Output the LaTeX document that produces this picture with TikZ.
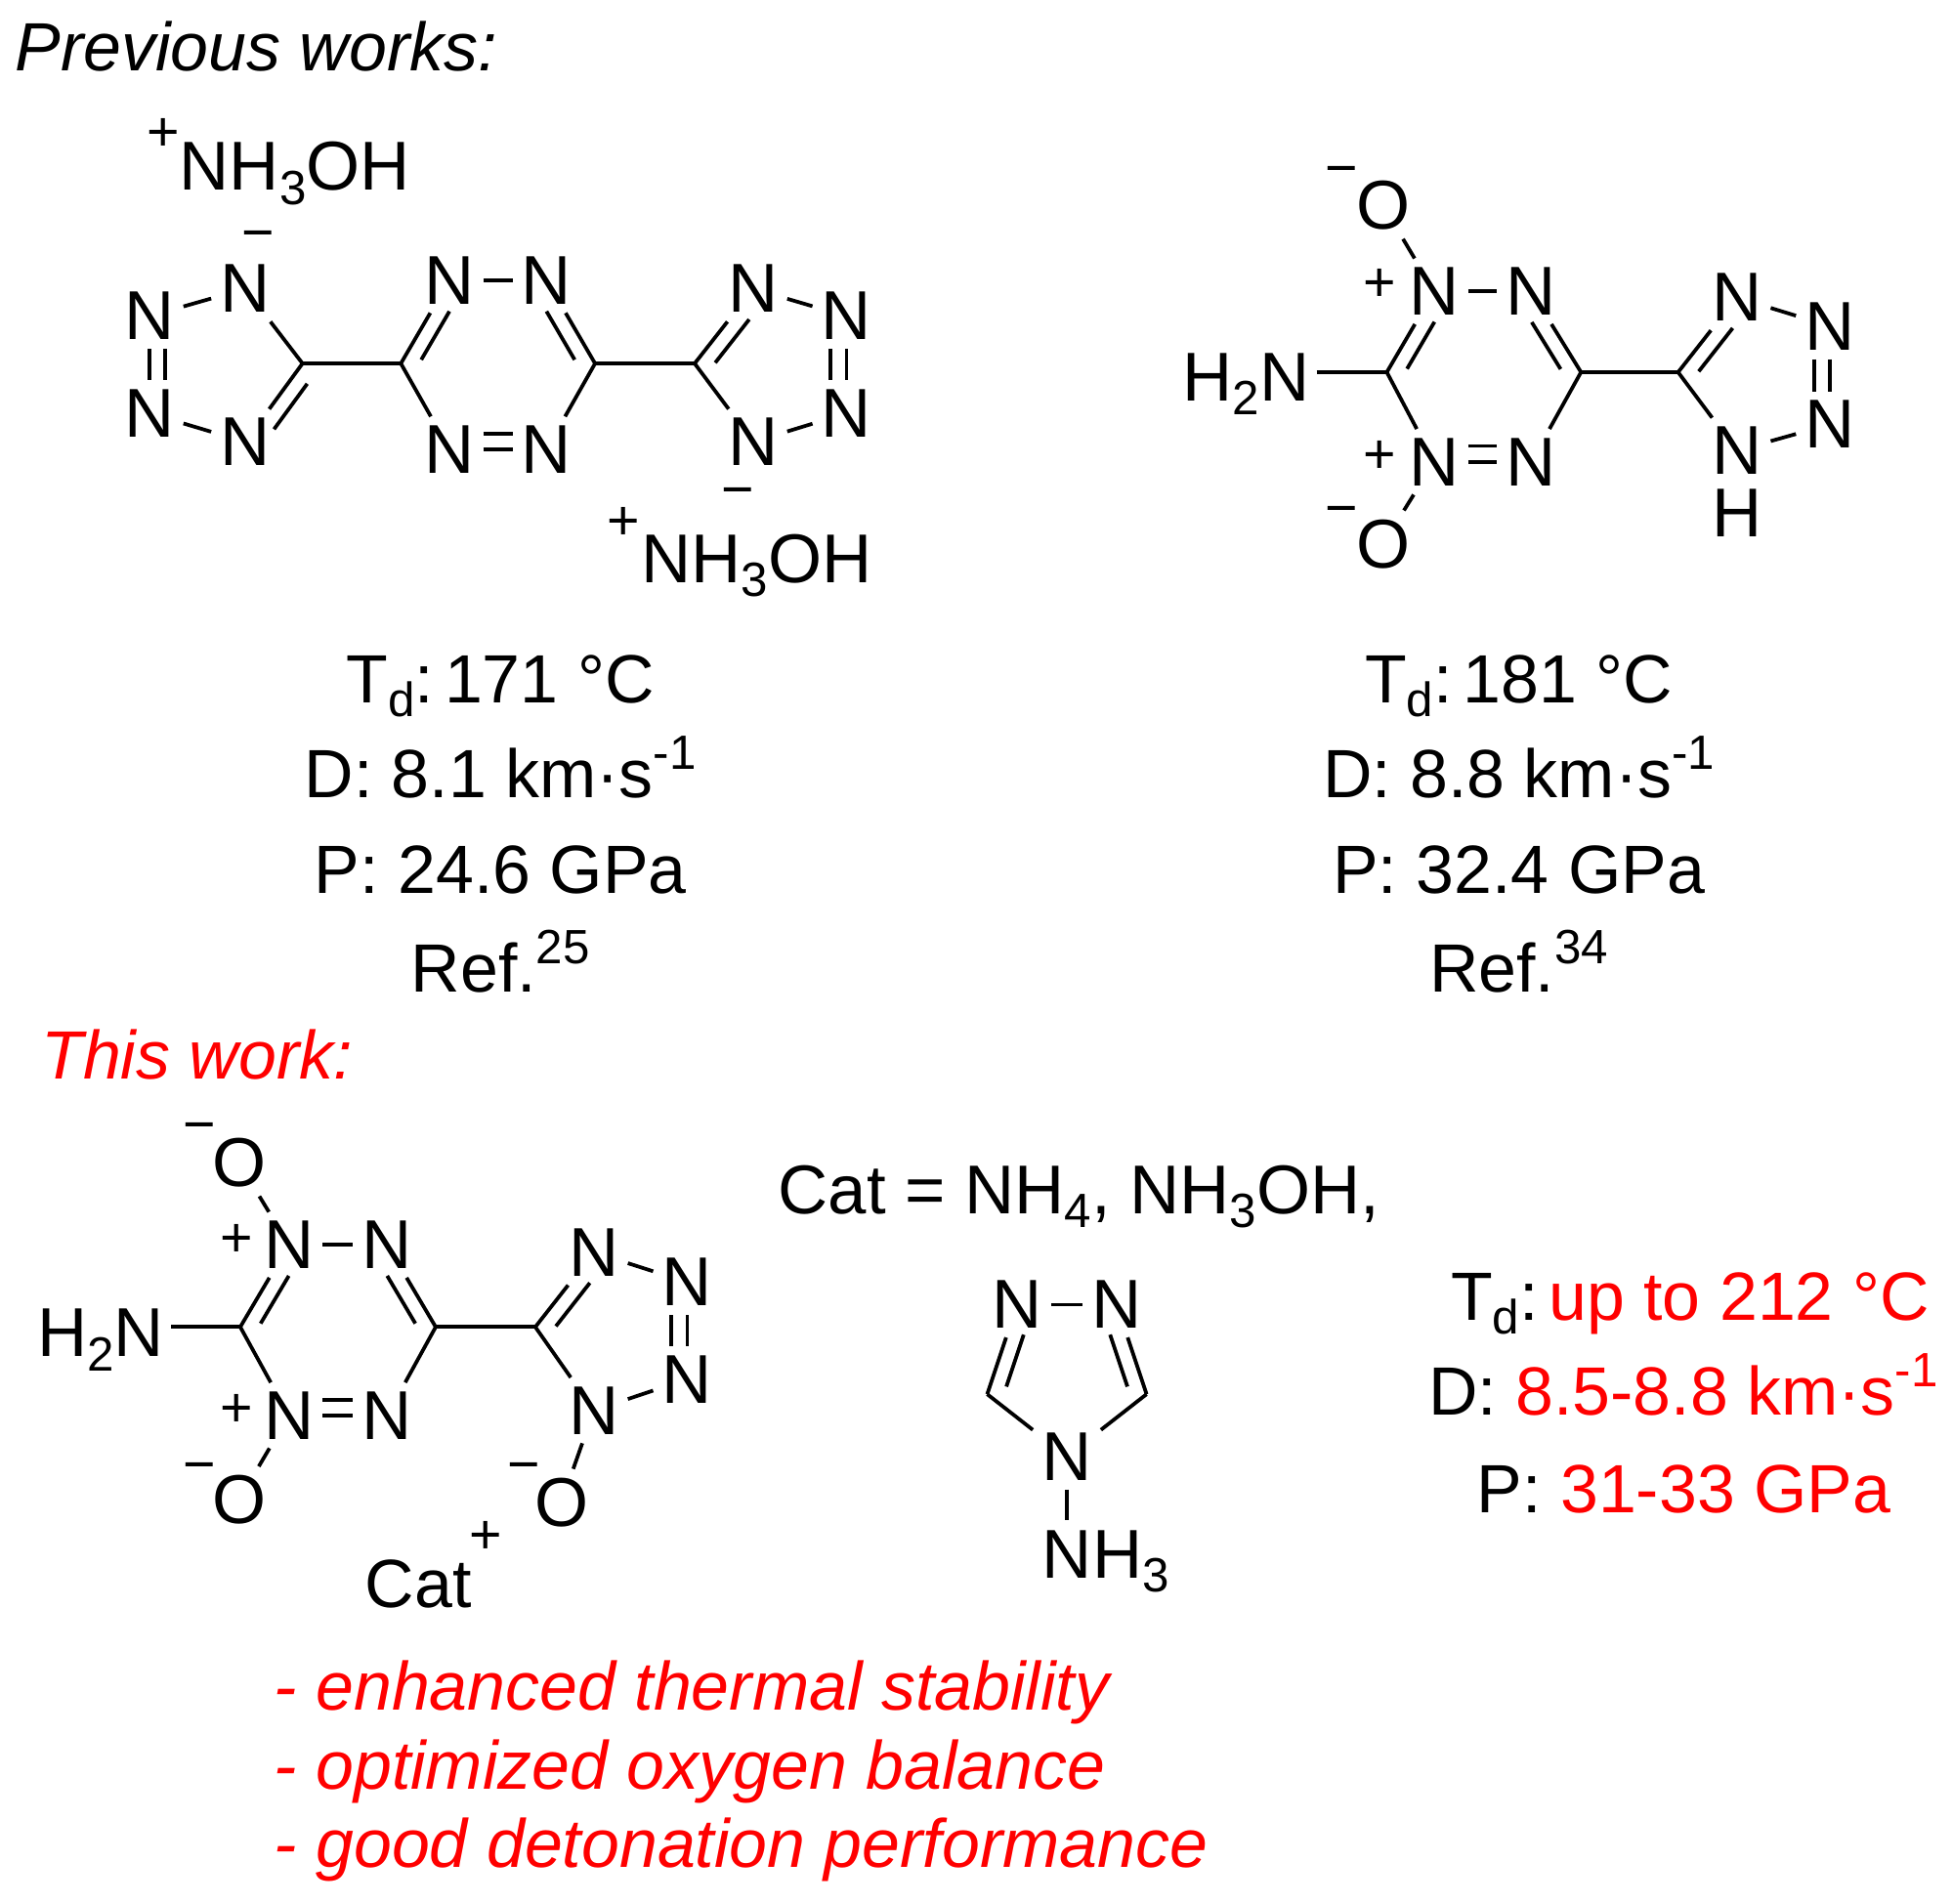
\documentclass[tikz,border=0pt]{standalone}
\usepackage{fontspec}
\setmainfont{Liberation Sans}
\usetikzlibrary{calc,positioning}

\newcommand{\sbs}[1]{\raisebox{-0.2em}{\fontsize{27.5}{30}\selectfont #1}}
\newcommand{\sps}[1]{\raisebox{0.42em}{\fontsize{27.5}{30}\selectfont #1}}
% short inner line of a ring double bond
\newcommand{\innerline}[3]{\draw[bond] ($(#1)!.14!(#2)!#3!90:(#2)$) -- ($(#1)!.72!(#2)!#3!90:(#2)$);}

\begin{document}
\begin{tikzpicture}[
        x=0.025cm, y=-0.025cm,
        atm/.style={font=\fontsize{39.5}{44}\selectfont, inner sep=5pt},
        grp/.style={font=\fontsize{39.5}{44}\selectfont, inner sep=0pt, anchor=base west},
        chg/.style={font=\fontsize{32}{34}\selectfont, inner sep=0pt},
        mns/.style={chg, yshift=-5pt},
        info/.style={font=\fontsize{39}{44}\selectfont, inner sep=0pt, anchor=base},
        remark/.style={font=\fontsize{39}{44}\selectfont\itshape, inner sep=0pt, text=red, anchor=base west},
        bond/.style={line width=2.1pt}
      ]
        \useasboundingbox (0,0) rectangle (1568,1529);

        % headings
        \node[remark, text=black] (prevhead) at (12,57) {Previous works:};
        \node[remark] (thishead) at (33,867) {This work:};

        % first salt
        \coordinate (ac1) at (243,292);
        \coordinate (ac2) at (322,292);
        \coordinate (ac3) at (478,292);
        \coordinate (ac4) at (558,292);
        \node[atm] (an1) at (120,254) {N};
        \node[atm] (an2) at (120,332) {N};
        \node[atm] (an3) at (197,232) {N};
        \node[atm] (an4) at (197,355) {N};
        \node[atm] (an5) at (361,225) {N};
        \node[atm] (an6) at (439,225) {N};
        \node[atm] (an7) at (361,361) {N};
        \node[atm] (an8) at (439,361) {N};
        \node[atm] (an9) at (605,232) {N};
        \node[atm] (an10) at (605,355) {N};
        \node[atm] (an11) at (680,254) {N};
        \node[atm] (an12) at (680,332) {N};
        \node[mns] (amin1) at (207,187) {−};
        \node[mns] (amin2) at (593,393) {−};
        \node[chg] (apl1) at (131,108) {+};
        \node[chg] (apl2) at (501,421) {+};
        \node[grp] (acat1) at (144,153) {NH\sbs{3}OH};
        \node[grp] (acat2) at (515,468) {NH\sbs{3}OH};
        \draw[bond] (an1) -- (an3);
        \draw[bond] (an2) -- (an4);
        \draw[bond] (an1) -- (an2);
        \draw[bond, transform canvas={xshift=9pt}] (an1) -- (an2);
        \draw[bond] (an3) -- (ac1);
        \draw[bond] (an4) -- (ac1);
        \draw[bond] (ac1) -- (ac2);
        \draw[bond] (ac2) -- (an5);
        \draw[bond] (ac2) -- (an7);
        \draw[bond] (an5) -- (an6);
        \draw[bond] (an7) -- (an8);
        \draw[bond, transform canvas={yshift=9pt}] (an7) -- (an8);
        \draw[bond] (an6) -- (ac3);
        \draw[bond] (an8) -- (ac3);
        \draw[bond] (ac3) -- (ac4);
        \draw[bond] (ac4) -- (an9);
        \draw[bond] (ac4) -- (an10);
        \draw[bond] (an9) -- (an11);
        \draw[bond] (an10) -- (an12);
        \draw[bond] (an11) -- (an12);
        \draw[bond, transform canvas={xshift=-9pt}] (an11) -- (an12);
        \innerline{ac1}{an4}{9pt}
        \innerline{ac2}{an5}{-9pt}
        \innerline{ac3}{an6}{9pt}
        \innerline{ac4}{an9}{-9pt}

        % second compound
        \coordinate (bc1) at (1114,299);
        \coordinate (bc2) at (1270,299);
        \coordinate (bc3) at (1348,299);
        \node[atm] (bn1) at (1152,234) {N};
        \node[atm] (bn2) at (1230,234) {N};
        \node[atm] (bn3) at (1152,371) {N};
        \node[atm] (bn4) at (1230,371) {N};
        \node[atm] (bn5) at (1395,239) {N};
        \node[atm] (bn6) at (1395,362) {N};
        \node[atm] (bn7) at (1470,262) {N};
        \node[atm] (bn8) at (1470,341) {N};
        \node[atm] (bh) at (1395,412) {H};
        \node[atm] (bo1) at (1111,165) {O};
        \node[atm] (bo2) at (1111,437) {O};
        \node[grp, anchor=base east] (bamine) at (1052,322) {H\sbs{2}N};
        \node[mns] (bmin1) at (1078,135) {−};
        \node[mns] (bmin2) at (1078,408) {−};
        \node[chg] (bpl1) at (1108,229) {+};
        \node[chg] (bpl2) at (1108,367) {+};
        \draw[bond, shorten <=4pt] (bc1 -| bamine.east) -- (bc1);
        \draw[bond] (bc1) -- (bn1);
        \draw[bond] (bc1) -- (bn3);
        \draw[bond] (bn1) -- (bn2);
        \draw[bond] (bn3) -- (bn4);
        \draw[bond, transform canvas={yshift=9pt}] (bn3) -- (bn4);
        \draw[bond] (bn2) -- (bc2);
        \draw[bond] (bn4) -- (bc2);
        \draw[bond] (bc2) -- (bc3);
        \draw[bond] (bc3) -- (bn5);
        \draw[bond] (bc3) -- (bn6);
        \draw[bond] (bn5) -- (bn7);
        \draw[bond] (bn6) -- (bn8);
        \draw[bond] (bn7) -- (bn8);
        \draw[bond, transform canvas={xshift=-9pt}] (bn7) -- (bn8);
        \draw[bond] (bo1) -- (bn1);
        \draw[bond] (bo2) -- (bn3);
        \innerline{bc1}{bn1}{-9pt}
        \innerline{bc2}{bn2}{9pt}
        \innerline{bc3}{bn5}{-9pt}

        % values of the previous works
        \node[info] (atd) at (402,565) {T\sbs{d}:\hspace{6pt}171 °C};
        \node[info] (ad) at (402,641) {D: 8.1 km·s\sps{-1}};
        \node[info] (ap) at (402,718) {P: 24.6 GPa};
        \node[info] (aref) at (402,797) {Ref.\sps{25}};
        \node[info] (btd) at (1220,565) {T\sbs{d}:\hspace{6pt}181 °C};
        \node[info] (bd) at (1220,641) {D: 8.8 km·s\sps{-1}};
        \node[info] (bp) at (1220,718) {P: 32.4 GPa};
        \node[info] (bref) at (1220,797) {Ref.\sps{34}};

        % this work
        \coordinate (cc1) at (193,1066);
        \coordinate (cc2) at (350,1066);
        \coordinate (cc3) at (430,1066);
        \node[atm] (cn1) at (232,1000) {N};
        \node[atm] (cn2) at (311,1000) {N};
        \node[atm] (cn3) at (232,1137) {N};
        \node[atm] (cn4) at (311,1137) {N};
        \node[atm] (cn5) at (477,1006) {N};
        \node[atm] (cn6) at (477,1133) {N};
        \node[atm] (cn7) at (552,1030) {N};
        \node[atm] (cn8) at (552,1108) {N};
        \node[atm] (co1) at (192,934) {O};
        \node[atm] (co2) at (192,1205) {O};
        \node[atm] (co3) at (451,1207) {O};
        \node[grp, anchor=base east] (camine) at (132,1090) {H\sbs{2}N};
        \node[mns] (cmin1) at (160,903) {−};
        \node[mns] (cmin2) at (160,1176) {−};
        \node[mns] (cmin3) at (421,1176) {−};
        \node[chg] (cpl1) at (190,997) {+};
        \node[chg] (cpl2) at (190,1133) {+};
        \node[info] (ccat) at (336,1291) {Cat};
        \node[chg] (cpl3) at (390,1235) {+};
        \draw[bond, shorten <=4pt] (cc1 -| camine.east) -- (cc1);
        \draw[bond] (cc1) -- (cn1);
        \draw[bond] (cc1) -- (cn3);
        \draw[bond] (cn1) -- (cn2);
        \draw[bond] (cn3) -- (cn4);
        \draw[bond, transform canvas={yshift=9pt}] (cn3) -- (cn4);
        \draw[bond] (cn2) -- (cc2);
        \draw[bond] (cn4) -- (cc2);
        \draw[bond] (cc2) -- (cc3);
        \draw[bond] (cc3) -- (cn5);
        \draw[bond] (cc3) -- (cn6);
        \draw[bond] (cn5) -- (cn7);
        \draw[bond] (cn6) -- (cn8);
        \draw[bond] (cn7) -- (cn8);
        \draw[bond, transform canvas={xshift=-9pt}] (cn7) -- (cn8);
        \draw[bond] (co1) -- (cn1);
        \draw[bond] (co2) -- (cn3);
        \draw[bond] (co3) -- (cn6);
        \innerline{cc1}{cn1}{-9pt}
        \innerline{cc2}{cn2}{9pt}
        \innerline{cc3}{cn5}{-9pt}

        % cations
        \node[grp] (catlist) at (625,975) {Cat = NH\sbs{4}, NH\sbs{3}OH,};
        \coordinate (tc1) at (793,1120);
        \coordinate (tc2) at (921,1120);
        \node[atm] (tn1) at (817,1048) {N};
        \node[atm] (tn2) at (897,1048) {N};
        \node[atm] (tn3) at (857,1170) {N};
        \node[grp] (tamine) at (837,1268) {NH\sbs{3}};
        \draw[bond] (tn1) -- (tn2);
        \draw[bond] (tn1) -- (tc1);
        \draw[bond] (tn2) -- (tc2);
        \draw[bond] (tc1) -- (tn3);
        \draw[bond] (tc2) -- (tn3);
        \draw[bond, shorten >=6pt] (tn3) -- (tn3 |- tamine.north);
        \innerline{tc1}{tn1}{-9pt}
        \innerline{tc2}{tn2}{9pt}

        % values of this work
        \node[info, anchor=base east] (ctd) at (1550,1061) {T\sbs{d}:\hspace{6pt}\textcolor{red}{up to 212 °C}};
        \node[info, anchor=base east] (cd) at (1557,1137) {D: \textcolor{red}{8.5-8.8 km·s\sps{-1}}};
        \node[info, anchor=base east] (cp) at (1519,1215) {P: \textcolor{red}{31-33 GPa}};

        % features
        \node[remark] (feat1) at (220,1374) {- enhanced thermal stability};
        \node[remark] (feat2) at (220,1437) {- optimized oxygen balance};
        \node[remark] (feat3) at (220,1500) {- good detonation performance};
      \end{tikzpicture}
\end{document}
